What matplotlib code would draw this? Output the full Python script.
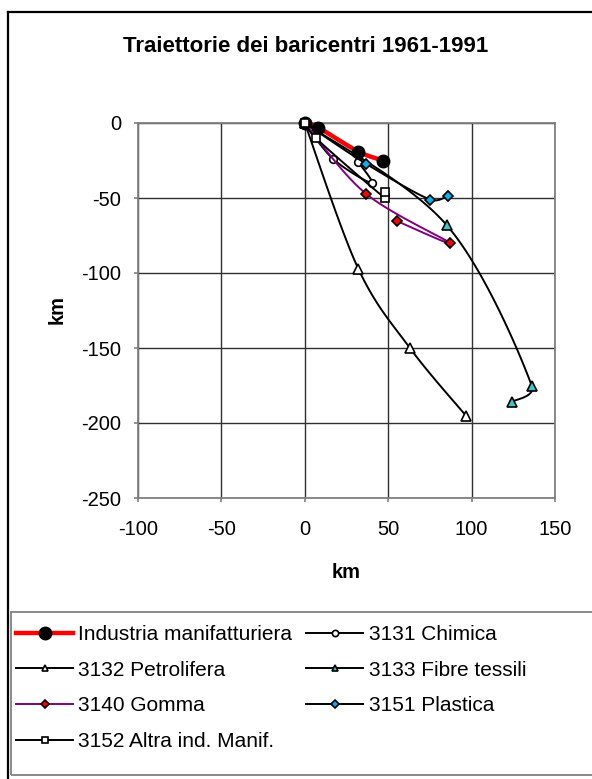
import numpy as np
import matplotlib
matplotlib.use("Agg")
import matplotlib.pyplot as plt
from matplotlib.lines import Line2D
from matplotlib.patches import Rectangle

plt.rcParams['font.family'] = ['Liberation Sans', 'DejaVu Sans']
plt.rcParams['axes.unicode_minus'] = False

# baricentre shifts (km) for 1961, 1971, 1981, 1991
ind_x = [0, 8, 32, 47]
ind_y = [0, -3, -19, -25]
chim_x = [0, 17, 40, 32]
chim_y = [0, -24, -40, -26]
petr_x = [0, 32, 63, 96.5]
petr_y = [0, -97, -150, -195]
fibre_x = [0, 85, 136, 124]
fibre_y = [0, -68, -175, -186]
gomma_x = [0, 36.5, 87, 55.5]
gomma_y = [0, -47, -80, -65.5]
plast_x = [0, 36.5, 75, 86]
plast_y = [0, -27, -51, -48.5]
altra_x = [0, 6.5, 48, 48]
altra_y = [0, -10, -50, -46]

labels = ["Industria manifatturiera", "3131 Chimica", "3132 Petrolifera",
          "3133 Fibre tessili", "3140 Gomma", "3151 Plastica",
          "3152 Altra ind. Manif."]
xticks = [-100, -50, 0, 50, 100, 150]
yticks = [-250, -200, -150, -100, -50, 0]


def smooth(xs, ys, n=40):
    # bezier through the points, like the spreadsheet "smoothed line";
    # control arms are kept shorter than half of the segment
    p = np.column_stack([xs, ys]).astype(float)
    pe = np.vstack([p[0], p, p[-1]])
    t = np.linspace(0, 1, n)[1:, None]
    out = [p[0]]
    for i in range(len(p) - 1):
        p0, p1, p2, p3 = pe[i], pe[i + 1], pe[i + 2], pe[i + 3]
        seg_len = np.hypot(*(p2 - p1))
        a1 = (p2 - p0) / 6
        a2 = (p3 - p1) / 6
        for a in (a1, a2):
            la = np.hypot(*a)
            if la > 0.5 * seg_len:
                a *= 0.5 * seg_len / la
        c1 = p1 + a1
        c2 = p2 - a2
        seg = (1 - t)**3 * p1 + 3 * (1 - t)**2 * t * c1 + 3 * (1 - t) * t**2 * c2 + t**3 * p2
        out.extend(seg)
    out = np.array(out)
    return out[:, 0], out[:, 1]


W, H = 592, 779
fig = plt.figure(figsize=(W / 100, H / 100), dpi=100)
ax = fig.add_axes([138 / W, 1 - 498 / H, (555 - 138) / W, (498 - 123) / H])

series = [
    (ind_x, ind_y, dict(color='red', lw=3.2), dict(marker='o', ms=9, mfc='black', mec='black')),
    (chim_x, chim_y, dict(color='black', lw=1.4), dict(marker='o', ms=5.5, mfc='white', mec='black', mew=1.2)),
    (petr_x, petr_y, dict(color='black', lw=1.4), dict(marker='^', ms=6.5, mfc='white', mec='black', mew=1.2)),
    (fibre_x, fibre_y, dict(color='black', lw=1.4), dict(marker='^', ms=6.5, mfc='#33CCCC', mec='black', mew=1.2)),
    (gomma_x, gomma_y, dict(color='#800080', lw=1.4), dict(marker='D', ms=5, mfc='red', mec='black', mew=1.2)),
    (plast_x, plast_y, dict(color='black', lw=1.4), dict(marker='D', ms=5, mfc='#00B4F0', mec='black', mew=1.2)),
    (altra_x, altra_y, dict(color='black', lw=1.4), dict(marker='s', ms=6, mfc='white', mec='black', mew=1.2)),
]

handles = []
for k, (xs, ys, ls, ms) in enumerate(series):
    sx, sy = smooth(xs, ys)
    ax.plot(sx, sy, zorder=3 + k, solid_capstyle='round', clip_on=False, **ls)
    ax.plot(xs, ys, ls='none', zorder=3.5 + k, clip_on=False, **ms)
    hm = dict(ms)
    hm['ms'] = 9 if k == 0 else 4.5
    handles.append(Line2D([], [], **ls, **hm))

ax.set_xlim(-100, 150)
ax.set_ylim(-250, 0)
ax.set_xticks(xticks)
ax.set_yticks(yticks)
ax.grid(True, color='#303030', lw=1.0)
ax.set_axisbelow(True)
for s in ax.spines.values():
    s.set_color('#808080')
    s.set_linewidth(1.3)
ax.tick_params(direction='out', length=3, width=1.2, color='#808080',
               labelsize=14.5, pad=9)
ax.tick_params(axis='x', pad=13)

fig.text(346 / W, 1 - 572 / H, "km", ha='center', va='center',
         fontsize=14.5, fontweight='bold')
fig.text(57 / W, 1 - 310 / H, "km", ha='center', va='center',
         fontsize=14.5, fontweight='bold', rotation=90)
fig.text(306 / W, 1 - 47 / H, "Traiettorie dei baricentri 1961-1991",
         ha='center', va='center', fontsize=16, fontweight='bold')

# outer chart border (left and top) and the legend box
fig.add_artist(Line2D([8 / W, 8 / W], [0, 1 - 11.5 / H], transform=fig.transFigure,
                      color='black', lw=1.6))
fig.add_artist(Line2D([8 / W, 1], [1 - 11.5 / H, 1 - 11.5 / H], transform=fig.transFigure,
                      color='black', lw=1.6))
fig.add_artist(Rectangle((11 / W, 1 - 775 / H), (620 - 11) / W, (775 - 612) / H,
                         transform=fig.transFigure, fill=False, ec='#808080', lw=1.3))

order = [0, 2, 4, 6, 1, 3, 5]
fig.legend([handles[i] for i in order], [labels[i] for i in order],
           loc='upper left', bbox_to_anchor=(16 / W, 1 - 625 / H), ncol=2,
           frameon=False, fontsize=15, handlelength=2.75, handletextpad=0.25,
           columnspacing=0.65, labelspacing=0.8, borderpad=0, borderaxespad=0)

fig.savefig("out.png", dpi=100, facecolor='white')
